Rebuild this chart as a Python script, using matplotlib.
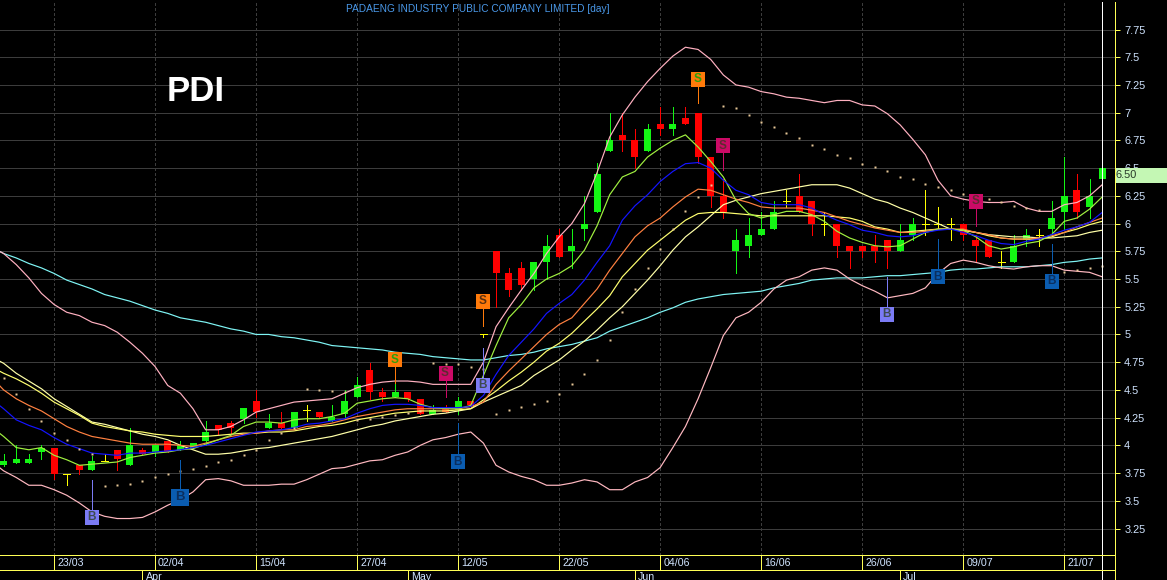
import numpy as np
import matplotlib
matplotlib.use("Agg")
import matplotlib.pyplot as plt
from matplotlib.patches import Rectangle

TITLE = "PADAENG INDUSTRY PUBLIC COMPANY LIMITED [day]"
SYMBOL = "PDI"
LAST_PRICE = "6.50"

opens = [3.82,3.84,3.84,3.94,3.98,3.74,3.82,3.78,3.86,3.96,3.82,3.96,3.94,4.04,3.96,3.98,4.04,4.18,4.2,4.24,
         4.4,4.16,4.2,4.16,4.32,4.3,4.22,4.28,4.44,4.68,4.48,4.44,4.48,4.42,4.28,4.34,4.32,4.4,5.0,5.75,
         5.55,5.6,5.5,5.65,5.9,5.75,5.95,6.1,6.65,6.8,6.75,6.65,6.9,6.85,6.95,7.0,6.6,6.25,5.75,5.8,
         5.9,5.95,6.2,6.25,6.2,6.0,6.0,5.8,5.8,5.8,5.85,5.75,5.9,6.0,6.0,6.0,6.0,5.85,5.85,5.65,
         5.65,5.85,5.9,5.95,6.1,6.3,6.15,6.4]
closes = [3.86,3.88,3.88,3.98,3.74,3.74,3.78,3.86,3.86,3.88,4.0,3.92,4.0,3.94,4.0,4.02,4.12,4.14,4.16,4.34,
          4.3,4.2,4.16,4.3,4.32,4.26,4.26,4.4,4.54,4.48,4.44,4.48,4.42,4.28,4.32,4.3,4.4,4.36,5.0,5.55,
          5.4,5.45,5.65,5.8,5.7,5.8,6.0,6.45,6.75,6.75,6.6,6.85,6.85,6.9,6.9,6.6,6.25,6.1,5.85,5.9,
          5.95,6.1,6.2,6.1,6.0,6.0,5.8,5.75,5.75,5.75,5.75,5.85,6.0,6.0,6.0,6.0,5.9,5.8,5.7,5.65,
          5.8,5.9,5.9,6.05,6.25,6.1,6.25,6.5]
highs = [3.92,4.0,3.92,4.0,3.98,3.74,3.82,3.9,3.92,3.96,4.16,3.98,4.0,4.04,4.04,4.02,4.22,4.18,4.22,4.34,
         4.5,4.28,4.3,4.3,4.36,4.3,4.36,4.5,4.62,4.74,4.52,4.56,4.48,4.42,4.36,4.36,4.44,4.4,5.0,5.75,
         5.6,5.65,5.65,5.9,5.95,5.95,6.25,6.55,7.0,7.0,6.85,6.9,7.05,7.05,7.05,7.0,6.6,6.4,5.95,6.05,
         6.1,6.2,6.3,6.45,6.2,6.1,6.0,5.8,5.8,5.9,5.85,6.0,6.05,6.3,6.15,6.05,6.0,5.9,5.85,5.75,
         5.9,5.95,5.95,6.2,6.6,6.45,6.4,6.7]
lows = [3.81,3.84,3.84,3.88,3.7,3.64,3.74,3.78,3.86,3.78,3.82,3.92,3.9,3.94,3.96,3.98,4.0,4.1,4.1,4.2,
        4.26,4.16,4.16,4.16,4.22,4.26,4.22,4.26,4.44,4.42,4.4,4.44,4.4,4.28,4.28,4.3,4.28,4.34,4.98,5.25,
        5.35,5.4,5.4,5.5,5.7,5.6,5.85,6.1,6.65,6.65,6.5,6.65,6.8,6.8,6.9,6.55,6.15,6.05,5.55,5.7,
        5.9,5.95,6.15,6.1,5.9,5.9,5.7,5.6,5.7,5.65,5.6,5.75,5.85,5.9,5.95,5.85,5.85,5.65,5.7,5.6,
        5.65,5.8,5.8,5.9,5.95,6.05,6.05,6.35]

# indicator series: first value belongs to the bar just off the left edge (index -1)
bb_upper = [5.79,5.73,5.63,5.51,5.37,5.27,5.2,5.17,5.11,5.08,5.02,4.93,4.83,4.71,4.54,4.47,4.33,4.14,4.14,4.17,4.23,
            4.3,4.33,4.36,4.39,4.4,4.41,4.42,4.47,4.52,4.55,4.57,4.58,4.58,4.57,4.55,4.55,4.55,4.55,4.75,5.07,
            5.24,5.4,5.55,5.73,5.88,6.0,6.18,6.46,6.78,6.98,7.14,7.28,7.4,7.51,7.59,7.57,7.48,7.34,7.25,7.23,
            7.19,7.17,7.14,7.13,7.11,7.09,7.11,7.11,7.07,7.06,6.99,6.89,6.76,6.62,6.39,6.25,6.22,6.2,6.19,6.19,
            6.2,6.14,6.11,6.11,6.17,6.19,6.25,6.35]
bb_lower = [3.86,3.77,3.71,3.64,3.64,3.6,3.55,3.48,3.4,3.36,3.34,3.34,3.35,3.4,3.46,3.51,3.58,3.69,3.7,3.68,3.64,
            3.64,3.64,3.65,3.65,3.69,3.74,3.79,3.8,3.83,3.86,3.87,3.91,3.94,4.0,4.05,4.07,4.1,4.12,4.02,3.82,
            3.76,3.72,3.69,3.64,3.64,3.66,3.69,3.67,3.6,3.6,3.67,3.71,3.8,3.98,4.17,4.42,4.7,4.99,5.15,5.2,
            5.29,5.41,5.49,5.52,5.58,5.6,5.58,5.5,5.44,5.39,5.33,5.35,5.37,5.42,5.55,5.64,5.67,5.65,5.62,5.6,
            5.59,5.61,5.62,5.62,5.58,5.57,5.56,5.52]
ma_long = [5.79,5.73,5.69,5.64,5.6,5.55,5.49,5.45,5.41,5.36,5.33,5.3,5.26,5.22,5.19,5.15,5.13,5.11,5.08,5.05,5.03,
           5.0,5.0,4.98,4.97,4.95,4.93,4.9,4.89,4.88,4.87,4.86,4.84,4.83,4.82,4.8,4.79,4.78,4.77,4.77,4.79,
           4.81,4.82,4.84,4.87,4.89,4.91,4.94,4.97,5.03,5.07,5.11,5.15,5.2,5.24,5.29,5.32,5.34,5.36,5.37,5.38,
           5.39,5.42,5.44,5.46,5.49,5.5,5.51,5.51,5.51,5.52,5.53,5.53,5.54,5.55,5.56,5.58,5.59,5.59,5.6,5.61,
           5.61,5.61,5.62,5.63,5.65,5.66,5.68,5.69]
ma_fast = [4.17,4.08,3.98,3.96,3.98,3.91,3.87,3.82,3.83,3.84,3.85,3.89,3.91,3.93,3.94,3.96,3.97,4.01,4.05,4.09,4.17,
           4.21,4.21,4.2,4.23,4.24,4.24,4.26,4.29,4.38,4.4,4.42,4.43,4.42,4.37,4.34,4.33,4.33,4.36,4.63,4.9,
           5.15,5.27,5.42,5.5,5.55,5.62,5.76,5.98,6.26,6.42,6.47,6.6,6.68,6.75,6.8,6.69,6.56,6.42,6.21,6.09,
           6.05,6.08,6.11,6.11,6.08,6.02,5.93,5.87,5.83,5.8,5.79,5.8,5.86,5.92,5.95,5.95,5.94,5.88,5.8,5.77,
           5.79,5.82,5.84,5.9,6.02,6.05,6.13,6.24]
ma_blue = [4.42,4.33,4.23,4.18,4.14,4.07,4.01,3.97,3.93,3.92,3.91,3.93,3.93,3.94,3.95,3.96,3.98,4.0,4.03,4.06,4.09,
           4.12,4.13,4.14,4.16,4.19,4.2,4.22,4.24,4.29,4.33,4.36,4.37,4.37,4.36,4.34,4.34,4.34,4.35,4.45,4.64,
           4.81,4.93,5.05,5.19,5.28,5.36,5.49,5.65,5.8,6.03,6.16,6.26,6.38,6.47,6.54,6.55,6.5,6.39,6.3,6.26,
           6.19,6.17,6.17,6.17,6.14,6.08,6.03,5.99,5.94,5.92,5.89,5.88,5.89,5.92,5.94,5.95,5.92,5.89,5.85,5.82,
           5.81,5.84,5.86,5.9,5.94,5.97,6.01,6.1]
ma_orange = [4.62,4.5,4.42,4.36,4.31,4.24,4.17,4.12,4.08,4.06,4.04,4.02,4.01,4.01,4.01,4.0,3.99,4.02,4.05,4.08,4.1,
             4.11,4.13,4.14,4.14,4.17,4.18,4.2,4.23,4.26,4.28,4.3,4.32,4.33,4.33,4.33,4.33,4.33,4.35,4.39,4.55,
             4.67,4.78,4.89,5.0,5.09,5.15,5.28,5.41,5.58,5.73,5.88,5.98,6.05,6.15,6.24,6.31,6.3,6.26,6.22,6.19,
             6.15,6.14,6.14,6.14,6.12,6.1,6.06,6.02,5.99,5.96,5.94,5.92,5.92,5.93,5.95,5.95,5.95,5.92,5.9,5.87,
             5.86,5.86,5.87,5.89,5.92,5.97,6.01,6.05]
ma_yellow = [4.71,4.65,4.6,4.54,4.47,4.39,4.33,4.27,4.2,4.17,4.15,4.13,4.12,4.1,4.09,4.08,4.08,4.08,4.09,4.1,4.11,
             4.11,4.12,4.12,4.13,4.15,4.17,4.18,4.2,4.23,4.25,4.27,4.29,4.3,4.31,4.31,4.31,4.32,4.33,4.41,4.49,
             4.58,4.66,4.75,4.85,4.92,5.01,5.12,5.23,5.35,5.52,5.64,5.76,5.85,5.94,6.03,6.09,6.1,6.1,6.09,6.08,
             6.07,6.07,6.07,6.07,6.07,6.07,6.06,6.05,6.02,5.97,5.95,5.92,5.93,5.94,5.95,5.95,5.94,5.92,5.89,5.87,
             5.86,5.86,5.86,5.88,5.92,5.95,5.99,6.02]
ma_pale = [4.8,4.74,4.65,4.58,4.51,4.42,4.35,4.28,4.21,4.19,4.16,4.13,4.1,4.08,4.05,4.0,3.96,3.92,3.92,3.93,3.95,
           3.97,3.98,4.0,4.02,4.04,4.06,4.08,4.11,4.14,4.17,4.19,4.22,4.24,4.26,4.28,4.29,4.31,4.33,4.39,4.44,
           4.49,4.54,4.63,4.7,4.77,4.86,4.94,5.04,5.15,5.25,5.37,5.49,5.62,5.76,5.88,5.97,6.07,6.17,6.21,6.24,
           6.27,6.29,6.31,6.33,6.35,6.35,6.35,6.32,6.27,6.22,6.19,6.14,6.1,6.05,6.0,5.95,5.94,5.92,5.9,5.89,
           5.88,5.88,5.87,5.87,5.88,5.89,5.92,5.94]
sar = [4.61,4.46,4.33,4.22,4.11,4.05,3.97,3.92,3.63,3.64,3.65,3.68,3.71,3.74,3.77,3.79,3.81,3.85,3.87,3.91,
       3.96,4.05,4.11,4.16,4.51,4.5,4.49,4.48,4.23,4.24,4.26,4.27,4.29,4.31,4.74,4.73,4.73,4.71,4.69,4.28,
       4.32,4.35,4.37,4.4,4.46,4.55,4.64,4.77,4.95,5.2,5.41,5.6,5.77,5.95,6.11,6.24,6.35,7.06,7.04,6.98,
       6.92,6.87,6.82,6.77,6.71,6.67,6.62,6.59,6.54,6.51,6.47,6.42,6.4,6.36,6.33,6.3,6.27,6.24,6.22,6.19,
       6.16,6.14,6.12,float("nan"),5.56,5.58,5.6,5.62]

price_ticks = [3.25,3.5,3.75,4,4.25,4.5,4.75,5,5.25,5.5,5.75,6,6.25,6.5,6.75,7,7.25,7.5,7.75]
price_tick_labels = ["3.25","3.5","3.75","4","4.25","4.5","4.75","5","5.25","5.5","5.75","6","6.25","6.5","6.75","7","7.25","7.5","7.75"]
date_idx = [4,12,20,28,36,44,52,60,68,76,84]
date_labels = ["23/03","02/04","15/04","27/04","12/05","22/05","04/06","16/06","26/06","09/07","21/07"]
month_idx = [11,32,50,71]
month_labels = ["Apr","May","Jun","Jul"]

sig_idx = [7,14,31,35,36,38,38,55,57,70,74,77,83]
sig_text = ["B","B","S","S","B","S","B","S","S","B","B","S","B"]
sig_box = [3.35,3.53,4.77,4.65,3.85,5.3,4.54,7.3,6.7,5.18,5.52,6.2,5.48]
sig_tip = [3.69,3.87,4.56,4.44,4.2,5.08,4.88,7.09,6.48,5.52,5.86,5.98,5.82]
sig_face = ["#7b7bf5","#0a5cb0","#ff7a0a","#cc0a66","#0a5cb0","#ff7a0a","#7b7bf5","#ff7a0a","#cc0a66","#7b7bf5","#0a5cb0","#cc0a66","#0a5cb0"]
sig_ink = ["#3d4a50","#0a2f5f","#2ea00a","#5f2a30","#0a2f5f","#5a3010","#3d4a50","#2ea00a","#5f2a30","#3d4a50","#0a2f5f","#5f2a30","#0a2f5f"]

W, H = 1167, 580
dpi = 100
px = 72 / dpi
fig = plt.figure(figsize=(W / dpi, H / dpi), dpi=dpi, facecolor="black")
plt.rcParams["font.family"] = ["Liberation Sans", "DejaVu Sans"]

ax_left, ax_right, ax_top, ax_bottom = 0, 1115, 2, 555
ax = fig.add_axes([ax_left / W, 1 - ax_bottom / H, (ax_right - ax_left) / W, (ax_bottom - ax_top) / H])
strip = fig.add_axes([ax_left / W, 0, (ax_right - ax_left) / W, (H - ax_bottom) / H])

STEP = 12.627
X0 = 3.6
def xlim_for(ax_):
    ax_.set_xlim((ax_left - X0) / STEP, (ax_right - X0) / STEP)
xlim_for(ax); xlim_for(strip)
PPU = 110.89
ax.set_ylim(7.75 - (ax_bottom - 29.5) / PPU, 7.75 - (ax_top - 29.5) / PPU)
strip.set_ylim(H - ax_bottom, 0)

for a in (ax, strip):
    a.set_facecolor("black")
    for s in ("left", "top", "bottom"):
        a.spines[s].set_visible(False)
    a.spines["right"].set_color("#ffff55")
    a.spines["right"].set_linewidth(px)

GRID = "#3c3c3c"
LABEL = "#d0e4ff"
ax.set_yticks(price_ticks)
ax.set_yticklabels(price_tick_labels)
ax.yaxis.tick_right()
ax.tick_params(axis="y", colors="#ffff55", length=5 * px, width=px, pad=3, labelsize=7.9, labelcolor=LABEL)
ax.set_xticks([])
strip.set_xticks([]); strip.set_yticks([])
ax.hlines(price_ticks, *ax.get_xlim(), color=GRID, lw=px, zorder=1, antialiased=False)
ax.vlines(date_idx, *ax.get_ylim(), color=GRID, lw=px, linestyles=(0, (2.5, 2.5)), zorder=1, antialiased=False)

# candles
BODY = 7 / STEP
for i, (o, h, l, c) in enumerate(zip(opens, highs, lows, closes)):
    if o == c:
        col = "#ffff00"
        ax.hlines(o, i - BODY / 2, i + BODY / 2, color=col, lw=px, zorder=2, antialiased=False)
    else:
        col = "#14f514" if c > o else "#ff0000"
        ax.bar(i, abs(c - o), bottom=min(o, c), width=BODY, color=col, zorder=2.1, antialiased=False, linewidth=0)
    ax.vlines(i, l, h, color=col, lw=px, zorder=2, antialiased=False)

xs = np.arange(-1, len(opens))
series = [(ma_long, "#7ff5f5"), (bb_upper, "#ffb0c0"), (bb_lower, "#ffb8c0"), (ma_pale, "#ffffa8"),
          (ma_yellow, "#ffff70"), (ma_orange, "#ff8040"), (ma_fast, "#a0f040"), (ma_blue, "#1414ff")]
for vals, col in series:
    ax.plot(xs, vals, color=col, lw=1.2 * px, zorder=3)
ax.plot(xs[1:], sar, ls="none", marker="s", ms=2.8 * px, mfc="#e8c898", mec="none", zorder=3.2)

# signals
BW, BH = 14 / STEP, 15 / PPU
for i, t, b, tip, f, ink in zip(sig_idx, sig_text, sig_box, sig_tip, sig_face, sig_ink):
    big = (i == 14)
    w = BW * (18 / 14) if big else BW
    hh = BH * (17 / 15) if big else BH
    ax.vlines(i, b, tip, color=f, lw=px, zorder=4, antialiased=False)
    ax.add_patch(Rectangle((i - w / 2, b - hh / 2), w, hh, fc=f, ec="none", zorder=4.1, antialiased=False))
    ax.text(i - 0.05, b, t, color=ink, ha="center", va="center", fontsize=8.5 if not big else 9.5, zorder=4.2,
            fontweight="bold")

fig.text(346 / W, 1 - 9.5 / H, TITLE, color="#4a98e8", fontsize=7.27, ha="left", va="center")
fig.text(167 / W, 1 - 101 / H, SYMBOL, color="white", fontsize=25, fontweight="bold", ha="left", va="baseline")

# date strip
Y = "#ffff55"
strip.hlines([0, 15], *strip.get_xlim(), color=Y, lw=px, zorder=2, antialiased=False)
strip.vlines(date_idx, 0, 15, color=Y, lw=px, zorder=2, antialiased=False)
strip.vlines(month_idx, 15, 25, color=Y, lw=px, zorder=2, antialiased=False)
for i, t in zip(date_idx, date_labels):
    strip.annotate(t, (i, 7.5), xytext=(3 * px, 0), textcoords="offset points", color=LABEL, fontsize=7.7, va="center", ha="left")
for i, t in zip(month_idx, month_labels):
    strip.annotate(t, (i, 22), xytext=(3 * px, 0), textcoords="offset points", color=LABEL, fontsize=7.7, va="center", ha="left", annotation_clip=False)

# cursor
ax.axvline(87, color="white", lw=px, zorder=5, antialiased=False)
strip.axvline(87, color="white", lw=px, zorder=1, antialiased=False)

# last price tag
tag = Rectangle((1116 / W, 1 - 183 / H), (W - 1116) / W, 15 / H, transform=fig.transFigure, fc="#c4f7b4", ec="none", zorder=10)
fig.add_artist(tag)
fig.text(1116 / W, 1 - 175 / H, LAST_PRICE, color="#283828", fontsize=7.9, va="center", ha="left", zorder=11)

fig.savefig("out.png", dpi=dpi, facecolor="black")
